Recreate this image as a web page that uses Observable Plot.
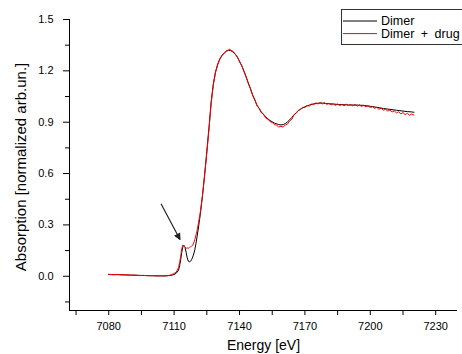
<!DOCTYPE html>
<html>
<head>
<meta charset="utf-8">
<script src="https://cdn.jsdelivr.net/npm/d3@7"></script>
<script src="https://cdn.jsdelivr.net/npm/@observablehq/plot@0.6"></script>
<style>
  html, body { margin: 0; padding: 0; background: #fff; overflow: hidden; }
  #wrap { position: relative; width: 462px; height: 354px; }
  #legend { position: absolute; left: 0; top: 0; pointer-events: none; }
</style>
</head>
<body>
<div id="wrap"></div>
<script>
// ---- data ----
const seriesNames = ["Dimer", "Dimer + drug"];
const seriesColors = ["#000000", "#ff0000"];

const energyDimer = [7080,7085,7090,7095,7100,7105,7108,7110,7111,7112,7112.5,7113,7113.5,7114,7114.5,7115,7115.5,7116,7116.5,7117,7117.5,7118,7118.5,7119,7119.5,7120,7120.5,7121,7121.5,7122,7123,7124,7125,7126,7127,7128,7129,7130,7131,7132,7133,7134,7135,7136,7137,7138,7139,7140,7141,7142,7143,7144,7145,7146,7147,7148,7150,7152,7154,7156,7158,7159,7160,7161,7162,7163,7164,7165,7166,7167,7168,7170,7172,7174,7176,7178,7180,7183,7186,7190,7194,7197,7200,7203,7206,7209,7212,7215,7217,7219,7220];
const absDimer = [0.010,0.009,0.007,0.005,0.003,0.002,0.004,0.010,0.018,0.035,0.060,0.095,0.140,0.172,0.180,0.168,0.140,0.108,0.088,0.084,0.087,0.097,0.112,0.130,0.155,0.190,0.230,0.270,0.315,0.360,0.470,0.595,0.730,0.870,1.020,1.125,1.195,1.240,1.270,1.290,1.305,1.315,1.320,1.318,1.310,1.298,1.280,1.256,1.230,1.200,1.165,1.130,1.095,1.060,1.030,1.000,0.960,0.930,0.910,0.895,0.886,0.884,0.886,0.892,0.902,0.914,0.928,0.943,0.956,0.967,0.977,0.990,1.000,1.007,1.011,1.012,1.009,1.006,1.003,1.001,1.000,0.998,0.993,0.987,0.980,0.975,0.970,0.965,0.962,0.960,0.958];

const energyDrug = [7080,7082,7084,7086,7088,7090,7092,7094,7096,7098,7100,7102,7104,7106,7107,7108,7109,7110,7111,7112,7112.5,7113,7113.5,7114,7114.5,7115,7115.5,7116,7116.5,7117,7117.5,7118,7118.5,7119,7119.5,7120,7120.5,7121,7121.5,7122,7123,7124,7125,7126,7127,7128,7129,7130,7131,7132,7133,7134,7135,7135.5,7136,7137,7138,7139,7140,7141,7142,7143,7144,7145,7146,7147,7148,7149,7150,7151,7152,7153,7154,7155,7156,7157,7158,7159,7160,7161,7162,7163,7164,7165,7166,7167,7168,7169,7170,7171,7172,7173,7174,7175,7176,7177,7178,7179,7180,7181,7182,7183,7184,7185,7186,7187,7188,7189,7190,7191,7192,7193,7194,7195,7196,7197,7198,7199,7200,7201,7202,7203,7204,7205,7206,7207,7208,7209,7210,7211,7212,7213,7214,7215,7216,7217,7218,7219,7220];
const absDrug = [0.012,0.009,0.011,0.008,0.009,0.006,0.007,0.004,0.005,0.003,0.004,0.002,0.003,0.002,0.004,0.006,0.010,0.016,0.025,0.050,0.080,0.115,0.160,0.183,0.178,0.170,0.164,0.166,0.163,0.168,0.172,0.175,0.182,0.195,0.215,0.240,0.265,0.300,0.335,0.375,0.470,0.590,0.720,0.860,1.010,1.120,1.190,1.235,1.270,1.293,1.302,1.318,1.322,1.328,1.318,1.315,1.298,1.283,1.252,1.232,1.196,1.168,1.127,1.098,1.057,1.033,0.996,0.982,0.955,0.948,0.925,0.918,0.903,0.899,0.886,0.882,0.872,0.876,0.871,0.884,0.889,0.908,0.917,0.943,0.952,0.970,0.975,0.988,0.986,0.998,0.994,1.006,1.002,1.013,1.006,1.016,1.007,1.014,1.004,1.010,1.001,1.008,0.998,1.006,0.997,1.004,0.996,1.005,0.997,1.003,0.995,1.004,0.994,1.001,0.992,0.999,0.989,0.996,0.985,0.991,0.981,0.987,0.975,0.982,0.970,0.976,0.965,0.971,0.960,0.966,0.955,0.961,0.949,0.956,0.944,0.952,0.940,0.948,0.942];

// annotation arrow (pointing to pre-edge peak)
const arrowFrom = [7104.1, 0.421];
const arrowTo = [7112.7, 0.215];

// axes
const xDomain = [7062, 7240];
const yDomain = [-0.2, 1.5];
const xMajorTicks = [7080, 7110, 7140, 7170, 7200, 7230];
const xMinorTicks = [7065, 7095, 7125, 7155, 7185, 7215];
const yMajorTicks = [0.0, 0.3, 0.6, 0.9, 1.2, 1.5];
const yMinorTicks = [-0.15, 0.15, 0.45, 0.75, 1.05, 1.35];
const xLabel = "Energy [eV]";
const yLabel = "Absorption [normalized arb.un.]";

// ---- build ----
const dimer = energyDimer.map((e, i) => ({e, a: absDimer[i]}));
const drug = energyDrug.map((e, i) => ({e, a: absDrug[i]}));
const arrowData = [{x1: arrowFrom[0], y1: arrowFrom[1], x2: arrowTo[0], y2: arrowTo[1]}];

const font = "'Liberation Sans', Arial, Helvetica, sans-serif";

const chart = Plot.plot({
  width: 462,
  height: 354,
  marginLeft: 69,
  marginRight: 5,
  marginTop: 19,
  marginBottom: 44,
  x: {domain: xDomain},
  y: {domain: yDomain},
  style: {fontFamily: font, fontSize: "11px", color: "#000", background: "#fff", overflow: "visible"},
  marks: [
    Plot.axisY({ticks: yMajorTicks, tickSize: 6, tickPadding: 10, tickFormat: d3.format(".1f"), label: null, fontSize: 11}),
    Plot.axisY({ticks: yMinorTicks, tickSize: 4, tickFormat: () => "", label: null}),
    Plot.axisX({ticks: xMajorTicks, tickSize: 5, tickPadding: 7, tickFormat: d => String(d), label: null, fontSize: 11}),
    Plot.axisX({ticks: xMinorTicks, tickSize: 5, tickFormat: () => "", label: null}),
    Plot.ruleX([xDomain[0]], {stroke: "#000", strokeWidth: 1}),
    Plot.ruleY([yDomain[0]], {stroke: "#000", strokeWidth: 1}),
    Plot.text([xLabel], {frameAnchor: "bottom", textAnchor: "middle", lineAnchor: "middle", dy: 35, fontSize: 14, fill: "#000"}),
    Plot.text([yLabel], {frameAnchor: "left", textAnchor: "middle", lineAnchor: "middle", dx: -48, dy: 2, rotate: -90, fontSize: 15, fill: "#000"}),
    Plot.line(dimer, {x: "e", y: "a", stroke: seriesColors[0], strokeWidth: 1}),
    Plot.line(drug, {x: "e", y: "a", stroke: seriesColors[1], strokeWidth: 1}),
    Plot.arrow(arrowData, {x1: "x1", y1: "y1", x2: "x2", y2: "y2", stroke: "#222", strokeWidth: 1.2, headLength: 7, headAngle: 45}),
    Plot.dot(arrowData, {x: "x2", y: "y2", symbol: "triangle", r: 2.6, rotate: 152, fill: "#222", stroke: "none", dx: -2, dy: -3.6})
  ]
});

const wrap = document.getElementById("wrap");
wrap.appendChild(chart);

// legend (Origin-style boxed legend at top right, clipped by the page edge)
const ns = "http://www.w3.org/2000/svg";
const leg = document.createElementNS(ns, "svg");
leg.setAttribute("id", "legend");
leg.setAttribute("width", 462);
leg.setAttribute("height", 354);
const box = document.createElementNS(ns, "rect");
box.setAttribute("x", 341.5); box.setAttribute("y", 9.5);
box.setAttribute("width", 140); box.setAttribute("height", 35);
box.setAttribute("fill", "#fff"); box.setAttribute("stroke", "#333"); box.setAttribute("stroke-width", 1);
leg.appendChild(box);
seriesNames.forEach((name, i) => {
  const y = 21 + i * 12.6;
  const ln = document.createElementNS(ns, "line");
  ln.setAttribute("x1", 343); ln.setAttribute("x2", 377);
  ln.setAttribute("y1", y); ln.setAttribute("y2", y);
  ln.setAttribute("stroke", seriesColors[i]); ln.setAttribute("stroke-width", 1);
  leg.appendChild(ln);
  const t = document.createElementNS(ns, "text");
  t.setAttribute("x", 381); t.setAttribute("y", y + 4.3);
  t.setAttribute("font-family", font); t.setAttribute("font-size", "12.5px");
  t.setAttribute("word-spacing", "3px");
  t.setAttribute("fill", "#000");
  t.textContent = name;
  leg.appendChild(t);
});
wrap.appendChild(leg);
</script>
</body>
</html>
